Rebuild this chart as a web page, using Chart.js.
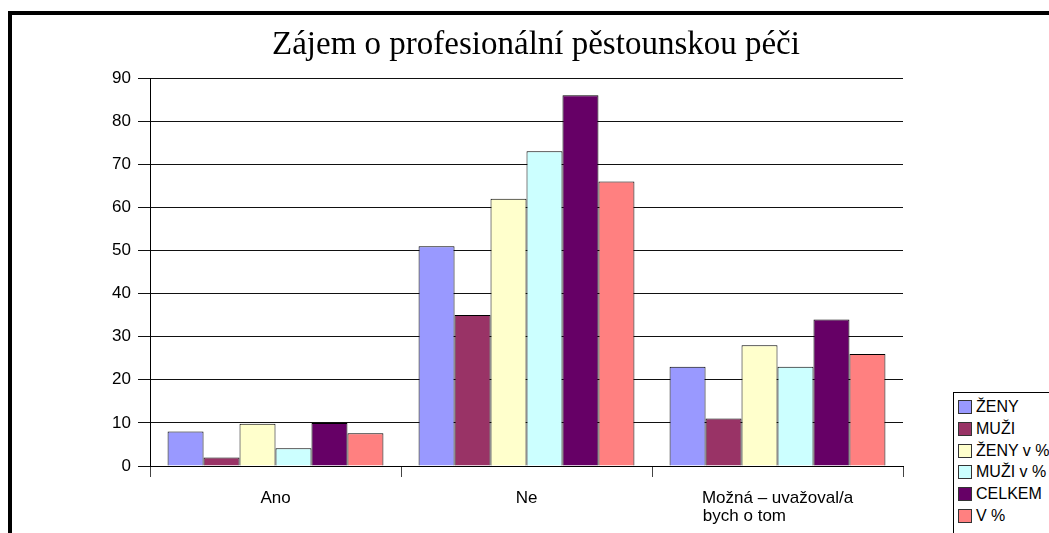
<!DOCTYPE html>
<html>
<head>
<meta charset="utf-8">
<script src="https://cdn.jsdelivr.net/npm/chart.js@4.4.1/dist/chart.umd.min.js"></script>
<style>
  body { margin: 0; background: #fff; }
  #wrap { position: relative; width: 1049px; height: 533px; overflow: hidden; }
  #frame { position: absolute; left: 8px; top: 11px; width: 1100px; height: 600px; border: 4px solid #000; box-sizing: border-box; }
  #title { position: absolute; left: 0; width: 1072px; top: 25px; text-align: center;
    font-family: "Liberation Serif", "Times New Roman", serif; font-size: 33px; color: #000; }
  #legend { position: absolute; left: 953px; top: 392px; width: 200px; height: 200px; border: 1px solid #000; background: #fff;
    font-family: "Liberation Sans", Arial, sans-serif; font-size: 16px; }
  .item { position: absolute; left: 4px; height: 14px; line-height: 14px; white-space: nowrap; }
  .item span { display: inline-block; width: 12px; height: 12px; border: 1px solid #333; vertical-align: top; margin-right: 4px; }
  canvas { position: absolute; left: 0; top: 0; }
</style>
</head>
<body>
<div id="wrap">
  <div id="frame"></div>
  <canvas id="chart" width="1049" height="533"></canvas>
  <div id="title">Zájem o profesionální pěstounskou péči</div>
  <div id="legend"></div>
</div>
<script>
// categories and series
const categories = ["Ano", "Ne", ["Možná – uvažoval/a", "bych o tom"]];
const seriesNames = ["ŽENY", "MUŽI", "ŽENY v %", "MUŽI v %", "CELKEM", "V %"];
const zeny = [8, 51, 23];
const muzi = [2, 35, 11];
const zenyPct = [9.8, 62, 28];
const muziPct = [4.1, 73, 23];
const celkem = [10, 86, 34];
const vPct = [7.6, 66, 26];
const colors = ["#9999FF", "#993366", "#FFFFCC", "#CCFFFF", "#660066", "#FF8080"];
const yTicks = [0, 10, 20, 30, 40, 50, 60, 70, 80, 90];

const values = [zeny, muzi, zenyPct, muziPct, celkem, vPct];
const font = { family: "'Liberation Sans', Arial, sans-serif", size: 17, lineHeight: 1.08 };

// pad shorter lines so a multi-line label reads left aligned
const measure = document.createElement("canvas").getContext("2d");
measure.font = "17px 'Liberation Sans', Arial, sans-serif";
function padLines(lines) {
  if (!Array.isArray(lines)) return lines;
  const w = Math.max(...lines.map((l) => measure.measureText(l).width));
  const sp = measure.measureText(" ").width;
  return lines.map((l) => l + " ".repeat(Math.round((w - measure.measureText(l).width) / sp)));
}

const ctx = document.getElementById("chart").getContext("2d");
const chart = new Chart(ctx, {
  type: "bar",
  data: {
    labels: categories,
    datasets: seriesNames.map((name, i) => ({
      label: name,
      data: values[i],
      backgroundColor: colors[i],
      borderColor: "#000",
      borderWidth: 1,
      categoryPercentage: 0.86,
      barPercentage: 1,
    })),
  },
  options: {
    responsive: false,
    animation: false,
    layout: { padding: { left: 0, right: 146, top: 78, bottom: 0 } },
    plugins: { legend: { display: false }, title: { display: false }, tooltip: { enabled: false } },
    scales: {
      x: {
        grid: { drawOnChartArea: false, drawTicks: true, tickLength: 11, color: "#444", offset: true },
        border: { color: "#000" },
        ticks: {
          color: "#000", font: font, padding: 12, maxRotation: 0, autoSkip: false,
          callback: function (v, i) { return padLines(categories[i]); },
        },
        afterFit: function (scale) { scale.height = 67; },
      },
      y: {
        min: 0, max: 90,
        afterBuildTicks: function (scale) { scale.ticks = yTicks.map((v) => ({ value: v })); },
        grid: { color: "#111", tickLength: 12, drawTicks: true },
        border: { color: "#000" },
        ticks: { color: "#000", font: font, padding: 7 },
        afterFit: function (scale) { scale.width = 150; },
      },
    },
  },
});

// legend built from the same series arrays
const legend = document.getElementById("legend");
seriesNames.forEach((name, i) => {
  const d = document.createElement("div");
  d.className = "item";
  d.style.top = 7 + i * 21.8 + "px";
  d.innerHTML = '<span style="background:' + colors[i] + '"></span>' + name;
  legend.appendChild(d);
});
</script>
</body>
</html>
